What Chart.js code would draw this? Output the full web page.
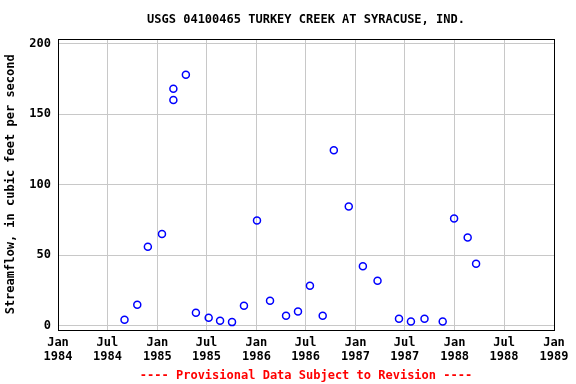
<!DOCTYPE html>
<html>
<head>
<meta charset="utf-8">
<script src="https://cdn.jsdelivr.net/npm/chart.js@4/dist/chart.umd.min.js"></script>
<style>
  body { margin: 0; background: #fff; }
  #wrap { width: 576px; height: 384px; }
</style>
</head>
<body>
<div id="wrap"><canvas id="flowChart" width="576" height="384"></canvas></div>
<script>
// Sample dates and measured streamflow (cfs)
const sampleDates = ['1984-09-02', '1984-10-19', '1984-11-27', '1985-01-18', '1985-03-01', '1985-03-01',
    '1985-04-16', '1985-05-23', '1985-07-09', '1985-08-20', '1985-10-03', '1985-11-16', '1986-01-03',
    '1986-02-20', '1986-04-20', '1986-06-03', '1986-07-17', '1986-09-02', '1986-10-13', '1986-12-07',
    '1987-01-28', '1987-03-23', '1987-06-10', '1987-07-24', '1987-09-12', '1987-11-18', '1987-12-30',
    '1988-02-18', '1988-03-20'];
const streamflow = [4.3, 14.9, 56, 65, 168, 160, 178, 9.2, 5.7, 3.6, 2.6, 14.2, 74.7, 17.8, 7.1, 10.2,
    28.4, 7.1, 124.5, 84.6, 42.2, 32, 5.0, 3.1, 5.0, 3.1, 76, 62.6, 44];

// Axis ticks
const tickYears = [1984, 1985, 1986, 1987, 1988, 1989];
const tickMonths = ['Jan', 'Jul'];
const yTicks = [0, 50, 100, 150, 200];

const toMs = s => Date.parse(s + 'T00:00:00Z');
const points = sampleDates.map((d, i) => ({ x: toMs(d), y: streamflow[i] }));

// x tick positions: Jan and Jul of each year
const xTicks = [];
tickYears.forEach(yr => {
    xTicks.push({ value: Date.UTC(yr, 0, 1), label: [tickMonths[0], String(yr)] });
    if (yr < tickYears[tickYears.length - 1]) {
        xTicks.push({ value: Date.UTC(yr, 6, 1), label: [tickMonths[1], String(yr)] });
    }
});

const font = { family: 'DejaVu Sans Mono', size: 12, weight: 'bold' };

// draws the black frame round the plot
const framePlugin = {
    id: 'frame',
    afterDraw(chart) {
        const a = chart.chartArea;
        const ctx = chart.ctx;
        ctx.save();
        ctx.strokeStyle = '#000';
        ctx.lineWidth = 1;
        ctx.strokeRect(Math.round(a.left) + 0.5, Math.round(a.top) + 0.5,
            Math.round(a.right - a.left), Math.round(a.bottom - a.top));
        ctx.restore();
    }
};

new Chart(document.getElementById('flowChart'), {
    type: 'scatter',
    data: {
        datasets: [{
            data: points,
            borderColor: '#0000ff',
            backgroundColor: 'rgba(0,0,0,0)',
            borderWidth: 1.5,
            pointRadius: 3.5,
            pointHoverRadius: 3.5
        }]
    },
    options: {
        responsive: false,
        animation: false,
        layout: { padding: { left: 0, right: 22, top: 0, bottom: 0 } },
        plugins: {
            legend: { display: false },
            tooltip: { enabled: false },
            title: {
                display: true,
                text: 'USGS 04100465 TURKEY CREEK AT SYRACUSE, IND.',
                color: '#000',
                font: font,
                fullSize: false,
                padding: { top: 13, bottom: 11.6 }
            },
            subtitle: {
                display: true,
                position: 'bottom',
                text: '---- Provisional Data Subject to Revision ----',
                color: '#ff0000',
                font: font,
                fullSize: false,
                padding: { top: 1, bottom: 1 }
            }
        },
        scales: {
            x: {
                type: 'linear',
                min: Date.UTC(1984, 0, 1),
                max: Date.UTC(1989, 0, 1),
                afterBuildTicks(scale) { scale.ticks = xTicks.map(t => ({ value: t.value })); },
                afterFit(scale) { scale.height = 38; },
                ticks: {
                    color: '#000',
                    font: font,
                    padding: 6,
                    maxRotation: 0,
                    autoSkip: false,
                    callback: (v) => { const t = xTicks.find(k => k.value === v); return t ? t.label : ''; }
                },
                grid: { color: '#c8c8c8', drawTicks: false },
                border: { display: false }
            },
            y: {
                min: -2.7,
                max: 203.3,
                afterBuildTicks(scale) { scale.ticks = yTicks.map(v => ({ value: v })); },
                afterFit(scale) { scale.width = 58; },
                ticks: { color: '#000', font: font, padding: 7 },
                grid: { color: '#c8c8c8', drawTicks: false },
                border: { display: false },
                title: {
                    display: true,
                    text: 'Streamflow, in cubic feet per second',
                    color: '#000',
                    font: font,
                    padding: { top: 4, bottom: 0 }
                }
            }
        }
    },
    plugins: [framePlugin]
});
</script>
</body>
</html>
